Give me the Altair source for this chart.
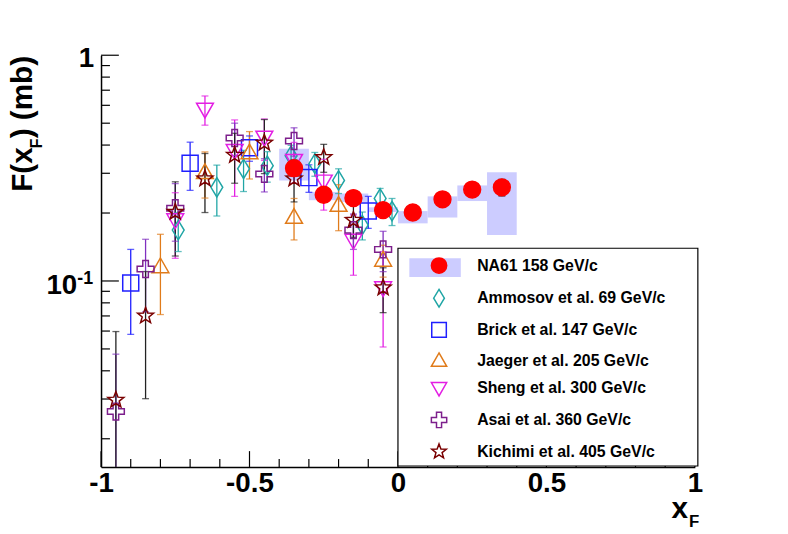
import altair as alt
import pandas as pd
import numpy as np

# ---------------- data ----------------
SERIES = ["NA61 158 GeV/c", "Ammosov et al. 69 GeV/c", "Brick et al. 147 GeV/c",
          "Jaeger et al. 205 GeV/c", "Sheng et al. 300 GeV/c", "Asai et al. 360 GeV/c",
          "Kichimi et al. 405 GeV/c"]

na61_x = [-0.35, -0.25, -0.15, -0.05, 0.05, 0.15, 0.25, 0.35]
na61_y = [0.316, 0.241, 0.233, 0.206, 0.201, 0.230, 0.254, 0.260]
na61_err = [0.010, 0.008, 0.008, 0.007, 0.007, 0.008, 0.010, 0.022]
na61_sys_lo = [0.279, 0.228, 0.224, 0.202, 0.180, 0.191, 0.226, 0.160]
na61_sys_hi = [0.385, 0.248, 0.244, 0.212, 0.204, 0.237, 0.265, 0.303]

amm_x = [-0.74, -0.61, -0.52, -0.44, -0.36, -0.28, -0.20, -0.12, -0.06, -0.02]
amm_y = [0.168, 0.260, 0.314, 0.324, 0.359, 0.331, 0.279, 0.177, 0.232, 0.204]
amm_err = [0.033, 0.066, 0.065, 0.050, 0.040, 0.040, 0.035, 0.025, 0.025, 0.028]

brick_x = [-0.90, -0.70, -0.50, -0.30, -0.10]
brick_y = [0.098, 0.332, 0.389, 0.287, 0.204]
brick_err = [0.040, 0.080, 0.050, 0.040, 0.033]

jaeger_x = [-0.80, -0.65, -0.50, -0.35, -0.20, -0.05]
jaeger_y = [0.116, 0.303, 0.371, 0.192, 0.217, 0.124]
jaeger_err = [0.045, 0.070, 0.088, 0.040, 0.050, 0.020]

sheng_x = [-0.75, -0.65, -0.55, -0.45, -0.35, -0.25, -0.15, -0.05]
sheng_y = [0.186, 0.575, 0.377, 0.432, 0.341, 0.276, 0.151, 0.093]
sheng_err = [0.060, 0.085, 0.140, 0.090, 0.070, 0.070, 0.045, 0.042]

asai_x = [-0.95, -0.85, -0.75, -0.55, -0.45, -0.35, -0.15, -0.05]
asai_y = [0.0264, 0.113, 0.210, 0.430, 0.298, 0.417, 0.168, 0.138]
asai_err = [0.021, 0.040, 0.060, 0.070, 0.050, 0.060, 0.030, 0.028]

kich_x = [-0.95, -0.85, -0.75, -0.65, -0.55, -0.45, -0.35, -0.25, -0.15, -0.05]
kich_y = [0.0297, 0.0701, 0.202, 0.284, 0.361, 0.409, 0.284, 0.353, 0.186, 0.0934]
kich_err = [0.030, 0.040, 0.073, 0.083, 0.090, 0.110, 0.060, 0.050, 0.030, 0.021]

x_major = [-1, -0.5, 0, 0.5, 1]
x_minor = [-0.9, -0.8, -0.7, -0.6, -0.4, -0.3, -0.2, -0.1, 0.1, 0.2, 0.3, 0.4, 0.6, 0.7, 0.8, 0.9]
y_major = [0.1, 1]
y_minor = [0.02, 0.03, 0.04, 0.05, 0.06, 0.07, 0.08, 0.09, 0.2, 0.3, 0.4, 0.5, 0.6, 0.7, 0.8, 0.9]

# ---------------- styles ----------------
MARK_COL = ["#ff0000", "#1fa5a5", "#1f1fff", "#e07b1a", "#e31ee3", "#7d1f8c", "#7a0000"]
ERR_COL = ["#000000", "#1fa5a5", "#1f1fff", "#e07b1a", "#e31ee3", "#8030c0", "#222222"]
FILLS = ["#ff0000", "transparent", "transparent", "transparent", "transparent", "transparent", "transparent"]
STAR = "M0,-1L0.247,-0.34L0.951,-0.309L0.399,0.13L0.588,0.809L0,0.42L-0.588,0.809L-0.399,0.13L-0.951,-0.309L-0.247,-0.34Z"
CROSS = "M-0.33,-1L0.33,-1L0.33,-0.33L1,-0.33L1,0.33L0.33,0.33L0.33,1L-0.33,1L-0.33,0.33L-1,0.33L-1,-0.33L-0.33,-0.33Z"
SHAPES = ["circle",
          "M0,-1.15L0.7,0L0,1.15L-0.7,0Z",
          "M-0.95,-0.95L0.95,-0.95L0.95,0.95L-0.95,0.95Z",
          "M0,-1L1,0.75L-1,0.75Z",
          "M-1,-0.75L1,-0.75L0,1Z",
          CROSS, STAR]
BOX = "M-2.6,-0.95L2.6,-0.95L2.6,0.95L-2.6,0.95Z"
FONT = "Liberation Sans"
YMIN = 0.015

# ---------------- tables ----------------
others = [(amm_x, amm_y, amm_err), (brick_x, brick_y, brick_err), (jaeger_x, jaeger_y, jaeger_err),
          (sheng_x, sheng_y, sheng_err), (asai_x, asai_y, asai_err), (kich_x, kich_y, kich_err)]
rows = []
for i, (xs_, ys_, es_) in enumerate(others, start=1):
    for x, y, e in zip(xs_, ys_, es_):
        rows.append(dict(series=SERIES[i], x=x, y=y, lo=max(y - e, 1e-4), hi=y + e, ecol=ERR_COL[i]))
for x, y, e in zip(na61_x, na61_y, na61_err):
    rows.append(dict(series=SERIES[0], x=x, y=y, lo=y - e, hi=y + e, ecol=ERR_COL[0]))
pts = pd.DataFrame(rows)
caps_lo = pts[pts["lo"] > YMIN]

sys_df = pd.DataFrame(dict(x1=np.array(na61_x) - 0.05, x2=np.array(na61_x) + 0.05,
                           lo=na61_sys_lo, hi=na61_sys_hi, box=["NA61 sys"] * len(na61_x)))

W, H = 600, 416
xs = alt.Scale(domain=[-1, 1], nice=False, zero=False)
ys = alt.Scale(type="log", domain=[YMIN, 1], nice=False, clamp=True)

xaxis = alt.Axis(values=x_major, labelExpr="datum.value < 0 ? '-' + format(-datum.value, '~g') : format(datum.value, '~g')",
                 labelFont=FONT, labelFontWeight="bold", labelFontSize=28, labelColor="black",
                 ticks=False, tickSize=0, domainColor="black", domainWidth=1.5, grid=False, title=None,
                 labelPadding=3, labelFlush=False, labelOverlap=False)
yaxis = alt.Axis(labels=False, ticks=False, tickSize=0, grid=False, title=None, domainColor="black", domainWidth=1.5)

# systematic boxes (with their own legend symbol)
boxes = alt.Chart(sys_df).mark_rect(fill="#ccccff").encode(
    x=alt.X("x1:Q", scale=xs, axis=xaxis), x2="x2:Q",
    y=alt.Y("lo:Q", scale=ys, axis=yaxis), y2="hi:Q",
    opacity=alt.Opacity("box:N", scale=alt.Scale(domain=["NA61 sys"], range=[1]),
                        legend=alt.Legend(orient="none", legendX=327, legendY=204, title=None,
                                          labelExpr="''", symbolType=BOX, symbolSize=400, padding=0,
                                          symbolFillColor="#ccccff", symbolStrokeColor="black",
                                          symbolStrokeWidth=1, symbolOpacity=1)))

# error bars
ebars = alt.Chart(pts).mark_rule(strokeWidth=1.3).encode(
    x="x:Q", y="lo:Q", y2="hi:Q", stroke=alt.Stroke("ecol:N", scale=None))
cap_hi = alt.Chart(pts).mark_tick(orient="horizontal", size=7, thickness=1.3).encode(
    x="x:Q", y="hi:Q", color=alt.Color("ecol:N", scale=None))
cap_lo = alt.Chart(caps_lo).mark_tick(orient="horizontal", size=7, thickness=1.3).encode(
    x="x:Q", y="lo:Q", color=alt.Color("ecol:N", scale=None))

leg = alt.Legend(orient="none", legendX=333, legendY=204, title=None, labelFont=FONT,
                 labelFontWeight="bold", labelFontSize=16, labelColor="black", symbolSize=240,
                 symbolStrokeWidth=1.5, rowPadding=9, labelOffset=30, padding=0, labelLimit=400)
points = alt.Chart(pts).mark_point(size=290, strokeWidth=1.5, opacity=1).encode(
    x="x:Q", y="y:Q",
    shape=alt.Shape("series:N", scale=alt.Scale(domain=SERIES, range=SHAPES), legend=leg),
    stroke=alt.Stroke("series:N", scale=alt.Scale(domain=SERIES, range=MARK_COL), legend=leg),
    fill=alt.Fill("series:N", scale=alt.Scale(domain=SERIES, range=FILLS), legend=leg))

# inward ticks
tx_major = alt.Chart(pd.DataFrame({"v": x_major})).mark_rule(color="black", strokeWidth=1.2).encode(
    x="v:Q", y=alt.value(H), y2=alt.value(H - 16))
tx_minor = alt.Chart(pd.DataFrame({"v": x_minor})).mark_rule(color="black", strokeWidth=1.2).encode(
    x="v:Q", y=alt.value(H), y2=alt.value(H - 8))
ty_major = alt.Chart(pd.DataFrame({"v": y_major})).mark_rule(color="black", strokeWidth=1.2).encode(
    y="v:Q", x=alt.value(0), x2=alt.value(18))
ty_minor = alt.Chart(pd.DataFrame({"v": y_minor})).mark_rule(color="black", strokeWidth=1.2).encode(
    y="v:Q", x=alt.value(0), x2=alt.value(9))

# legend frame
one = pd.DataFrame({"a": [0]})
frame = alt.Chart(one).mark_rect(fill="white", stroke="black", strokeWidth=1.2).encode(
    x=alt.value(300), x2=alt.value(603), y=alt.value(195), y2=alt.value(415))

# y tick labels (10^-1 with a superscript)
ylab = pd.DataFrame({"v": [1, 0.1], "t": ["1", "10"]})
ylab1 = alt.Chart(ylab.iloc[[0]]).mark_text(font=FONT, fontWeight="bold", fontSize=28, align="right",
                                            baseline="middle", dy=4, color="black").encode(
    y="v:Q", x=alt.value(-7), text="t:N")
ylab2 = alt.Chart(ylab.iloc[[1]]).mark_text(font=FONT, fontWeight="bold", fontSize=28, align="right",
                                            baseline="middle", dy=5, color="black").encode(
    y="v:Q", x=alt.value(-24), text="t:N")
ysup = alt.Chart(pd.DataFrame({"v": [0.1], "t": ["-1"]})).mark_text(
    font=FONT, fontWeight="bold", fontSize=18, align="left", baseline="alphabetic", dy=3, color="black").encode(
    y="v:Q", x=alt.value(-24), text="t:N")

# axis titles
def txt(t, x, y, size, angle=0, align="left", baseline="alphabetic"):
    return alt.Chart(one).mark_text(text=t, font=FONT, fontWeight="bold", fontSize=size, angle=angle,
                                    align=align, baseline=baseline, color="black").encode(
        x=alt.value(x), y=alt.value(y))

ytitle = (txt("F(x", -70, 138, 30, angle=270) + txt("F", -60, 94, 16, angle=270)
          + txt(") (mb)", -70, 84, 30, angle=270))
xtitle = txt("x", 593, 468, 30, align="right") + txt("F", 594, 477, 17)

chart = alt.layer(boxes, tx_major, tx_minor, ty_major, ty_minor, ebars, cap_hi, cap_lo, points,
                  frame, ylab1, ylab2, ysup, ytitle, xtitle).properties(
    width=W, height=H,
    autosize=alt.AutoSizeParams(type="none"),
    padding={"left": 94, "top": 45, "right": 86, "bottom": 65},
).configure_view(stroke=None)

chart.save("out.html", embed_options={"renderer": "svg", "actions": False})
